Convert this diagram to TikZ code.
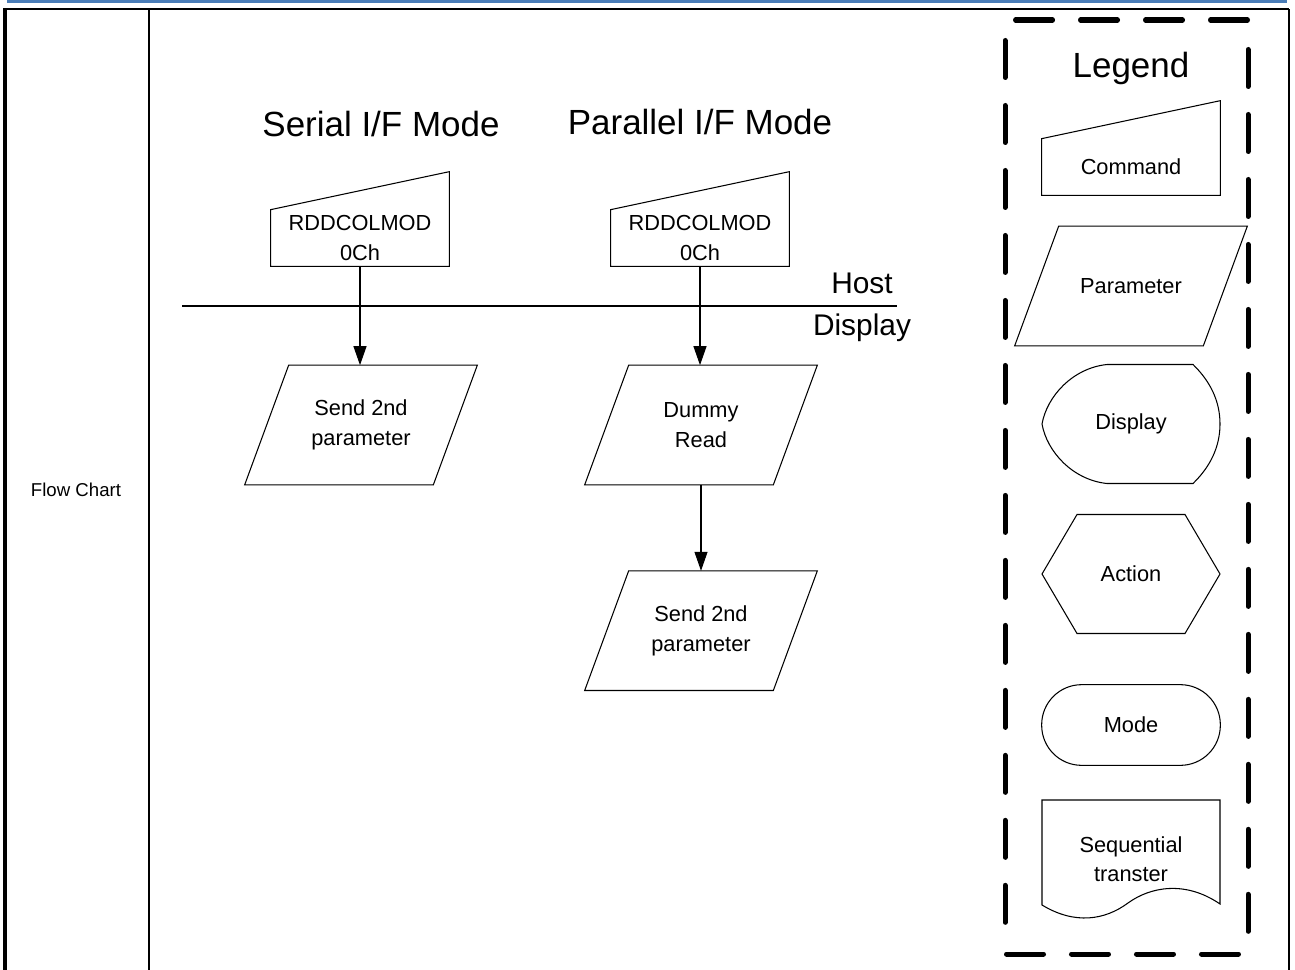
\documentclass[tikz,border=0pt]{standalone}
\usepackage{fontspec}
\setmainfont{Liberation Sans}
\usepackage{tikz}
\usetikzlibrary{arrows.meta,positioning,calc}
\definecolor{hdrblue}{HTML}{4A7DB8}
\tikzset{
  txt/.style={font=\fontsize{12.4}{16.8}\selectfont,align=center,inner sep=0pt},
  ttl/.style={font=\fontsize{19.9}{24}\selectfont,inner sep=0pt},
  side/.style={font=\fontsize{17}{20}\selectfont,inner sep=0pt},
  cmdbox/.style={txt,minimum width=3.56cm,minimum height=1.12cm},
  parbox/.style={txt,minimum width=4.64cm,minimum height=2.38cm},
  legbox/.style={txt,minimum width=3.56cm},
  outline/.style={draw=black,line width=0.6pt,line join=miter},
  flow/.style={-{Triangle[length=0.38cm,width=0.26cm]},line width=0.6pt},
  legframe/.style={line width=2.85pt,dash pattern=on 0.74cm off 0.56cm,line cap=round},
}

\begin{document}
\begin{tikzpicture}[x=0.02cm,y=-0.02cm]
  \useasboundingbox (0,0) rectangle (1295,970);
  % page header and table
  \draw[line width=1.7pt,hdrblue] (7,1.5) -- (1287,1.5);
  \draw[line width=1.7pt] (4,9) -- (1289,9);
  \draw[line width=2pt] (5,8) -- (5,970);
  \draw[line width=1.2pt] (149,9) -- (149,970);
  \draw[line width=1.2pt] (1289,9) -- (1289,970);
  \node[font=\fontsize{10.6}{12}\selectfont] (rowlbl) at (76,490) {Flow Chart};

  % flow
  \node[ttl] (titS) at (381,124) {Serial I/F Mode};
  \node[ttl] (titP) at (700,122) {Parallel I/F Mode};
  \node[cmdbox] (cmdS) at (360,238) {RDDCOLMOD\\0Ch};
  \node[cmdbox] (cmdP) at (700,238) {RDDCOLMOD\\0Ch};
  \coordinate (hl) at (182,306); \coordinate (hr) at (897,306);
  \draw[line width=0.7pt] (hl) -- (hr);
  \node[side] (hostlbl) at (862,283) {Host};
  \node[side] (displbl) at (862,328) {Display};
  \node[parbox] (parS) at (361,425) {Send 2nd\\parameter};
  \node[parbox] (dummy) at (701,425) {Dummy\\Read};
  \node[parbox,below=1.72cm of dummy] (parP) {Send 2nd\\parameter};
  \draw[flow] (cmdS.south) -- (cmdS.south |- parS.north);
  \draw[flow] (cmdP.south) -- (cmdP.south |- dummy.north);
  \draw[flow] (dummy.south) -- (parP.north);

  % legend
  \draw[legframe] (1247.5,20) -- (1005,20);
  \draw[legframe] (1006.5,954) -- (1250,954);
  \draw[legframe] (1005,40.5) -- (1005,940);
  \draw[legframe] (1248,49.5) -- (1248,945);
  \node[ttl] (legttl) at (1131,68) {Legend};
  \node[cmdbox] (legCmd) at (1131,167) {Command};
  \node[parbox] (legPar) at (1131,286) {Parameter};
  \node[legbox,minimum height=2.38cm] (legDisp) at (1131,424) {Display};
  \node[legbox,minimum height=2.38cm] (legAct) at (1131,574) {Action};
  \node[legbox,minimum height=1.6cm] (legMode) at (1131,725) {Mode};
  \node[legbox,minimum height=2.36cm] (legSeq) at (1131,859) {Sequential\\transter};

  % outlines
  \foreach \n in {cmdS,cmdP,legCmd}
    \draw[outline] (\n.south west) -- (\n.south east) -- ([yshift=0.76cm]\n.north east) -- (\n.north west) -- cycle;
  \foreach \n in {parS,dummy,parP,legPar}
    \draw[outline] (\n.south west) -- ([xshift=-0.88cm]\n.south east) -- (\n.north east) -- ([xshift=0.88cm]\n.north west) -- cycle;
  \draw[outline,shift={(legDisp.center)}] (-24,-59.5) -- (62,-59.5)
    .. controls (80,-42) and (89,-22) .. (89,0) .. controls (89,22) and (80,42) .. (62,59.5)
    -- (-24,59.5) .. controls (-58,56) and (-84,28) .. (-89,0)
    .. controls (-84,-28) and (-58,-56) .. cycle;
  \draw[outline,shift={(legAct.center)}] (-89,0) -- (-54,-59.5) -- (54,-59.5) -- (89,0) -- (54,59.5) -- (-54,59.5) -- cycle;
  \draw[outline,rounded corners=0.8cm] (legMode.south west) rectangle (legMode.north east);
  \draw[outline,shift={(legSeq.center)}] (-89,46) -- (-89,-59) -- (89,-59) -- (89,45)
    .. controls (54,21) and (19,28) .. (-3,44) .. controls (-26,61) and (-56,66) .. cycle;
\end{tikzpicture}
\end{document}
